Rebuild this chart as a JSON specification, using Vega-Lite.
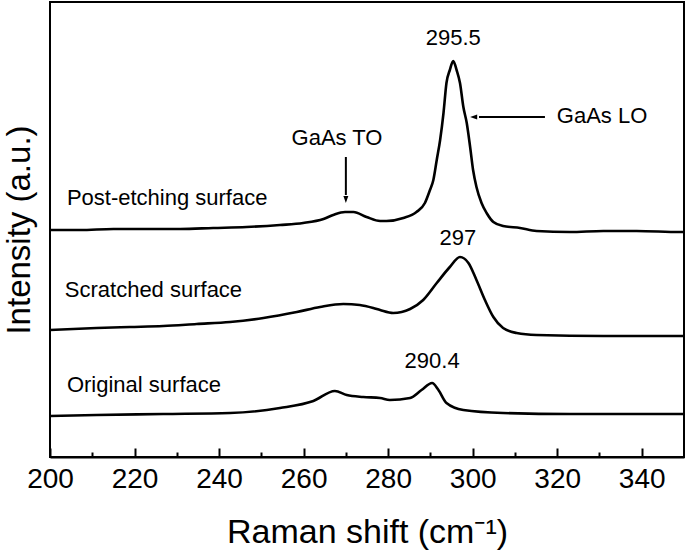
{
  "$schema": "https://vega.github.io/schema/vega-lite/v6.json",
  "autosize": {"type": "none"},
  "padding": {"left": 50, "top": 2, "right": 1, "bottom": 102},
  "width": 634,
  "height": 455,
  "config": {
    "view": {"stroke": "black", "strokeWidth": 2},
    "font": "Liberation Sans"
  },
  "datasets": {
    "spectra": [
      {"s": "Post-etching", "w": 200, "i": 227}, {"s": "Post-etching", "w": 207.1, "i": 227}, {"s": "Post-etching", "w": 215, "i": 228}, {"s": "Post-etching", "w": 222.9, "i": 228}, {"s": "Post-etching", "w": 230.8, "i": 228}, {"s": "Post-etching", "w": 238.6, "i": 229}, {"s": "Post-etching", "w": 246.5, "i": 230}, {"s": "Post-etching", "w": 254.4, "i": 232}, {"s": "Post-etching", "w": 259.9, "i": 234}, {"s": "Post-etching", "w": 264.7, "i": 238}, {"s": "Post-etching", "w": 267, "i": 242}, {"s": "Post-etching", "w": 269.8, "i": 245}, {"s": "Post-etching", "w": 271.8, "i": 245}, {"s": "Post-etching", "w": 274.9, "i": 240}, {"s": "Post-etching", "w": 278.1, "i": 236}, {"s": "Post-etching", "w": 279.6, "i": 236}, {"s": "Post-etching", "w": 283.6, "i": 239}, {"s": "Post-etching", "w": 286.7, "i": 245}, {"s": "Post-etching", "w": 288.7, "i": 254}, {"s": "Post-etching", "w": 289.9, "i": 267}, {"s": "Post-etching", "w": 290.7, "i": 277}, {"s": "Post-etching", "w": 291.5, "i": 297}, {"s": "Post-etching", "w": 292.3, "i": 317}, {"s": "Post-etching", "w": 293.1, "i": 344}, {"s": "Post-etching", "w": 293.8, "i": 374}, {"s": "Post-etching", "w": 294.6, "i": 387}, {"s": "Post-etching", "w": 295.4, "i": 396}, {"s": "Post-etching", "w": 296.2, "i": 387}, {"s": "Post-etching", "w": 297.0, "i": 374}, {"s": "Post-etching", "w": 297.8, "i": 350}, {"s": "Post-etching", "w": 298.6, "i": 334}, {"s": "Post-etching", "w": 299.4, "i": 310}, {"s": "Post-etching", "w": 300.1, "i": 287}, {"s": "Post-etching", "w": 300.9, "i": 270}, {"s": "Post-etching", "w": 302.1, "i": 254}, {"s": "Post-etching", "w": 303.3, "i": 244}, {"s": "Post-etching", "w": 304.9, "i": 235}, {"s": "Post-etching", "w": 307.2, "i": 231}, {"s": "Post-etching", "w": 311.2, "i": 229}, {"s": "Post-etching", "w": 315.1, "i": 226}, {"s": "Post-etching", "w": 323.0, "i": 225}, {"s": "Post-etching", "w": 330.9, "i": 226}, {"s": "Post-etching", "w": 338.8, "i": 226}, {"s": "Post-etching", "w": 349, "i": 225}, {"s": "Post-etching", "w": 350, "i": 225},
      {"s": "Scratched", "w": 200, "i": 127}, {"s": "Scratched", "w": 211, "i": 129}, {"s": "Scratched", "w": 218.9, "i": 130}, {"s": "Scratched", "w": 226.8, "i": 131}, {"s": "Scratched", "w": 234.7, "i": 133}, {"s": "Scratched", "w": 242.6, "i": 135}, {"s": "Scratched", "w": 250.5, "i": 139}, {"s": "Scratched", "w": 258.4, "i": 145}, {"s": "Scratched", "w": 263.9, "i": 150}, {"s": "Scratched", "w": 269.4, "i": 153}, {"s": "Scratched", "w": 273.3, "i": 152}, {"s": "Scratched", "w": 276.5, "i": 149}, {"s": "Scratched", "w": 278.1, "i": 147}, {"s": "Scratched", "w": 281.2, "i": 144}, {"s": "Scratched", "w": 285.2, "i": 148}, {"s": "Scratched", "w": 288.3, "i": 157}, {"s": "Scratched", "w": 291.5, "i": 174}, {"s": "Scratched", "w": 294.6, "i": 190}, {"s": "Scratched", "w": 297.0, "i": 200}, {"s": "Scratched", "w": 299.0, "i": 194}, {"s": "Scratched", "w": 300.9, "i": 177}, {"s": "Scratched", "w": 302.9, "i": 157}, {"s": "Scratched", "w": 304.9, "i": 140}, {"s": "Scratched", "w": 307.2, "i": 129}, {"s": "Scratched", "w": 310.4, "i": 124}, {"s": "Scratched", "w": 315.1, "i": 122}, {"s": "Scratched", "w": 330.9, "i": 121}, {"s": "Scratched", "w": 349, "i": 121}, {"s": "Scratched", "w": 350, "i": 121},
      {"s": "Original", "w": 200, "i": 41}, {"s": "Original", "w": 211, "i": 42}, {"s": "Original", "w": 226.8, "i": 43}, {"s": "Original", "w": 242.6, "i": 44}, {"s": "Original", "w": 254.4, "i": 49}, {"s": "Original", "w": 262.3, "i": 56}, {"s": "Original", "w": 267.4, "i": 66}, {"s": "Original", "w": 270.2, "i": 62}, {"s": "Original", "w": 274.1, "i": 60}, {"s": "Original", "w": 278.1, "i": 59}, {"s": "Original", "w": 280.4, "i": 57}, {"s": "Original", "w": 285.2, "i": 59}, {"s": "Original", "w": 287.9, "i": 67}, {"s": "Original", "w": 290.4, "i": 74}, {"s": "Original", "w": 291.9, "i": 67}, {"s": "Original", "w": 293.8, "i": 54}, {"s": "Original", "w": 297.8, "i": 47}, {"s": "Original", "w": 307.2, "i": 44}, {"s": "Original", "w": 323, "i": 43}, {"s": "Original", "w": 349, "i": 43}, {"s": "Original", "w": 350, "i": 43}
    ],
    "labels": [
      {"t": "295.5", "w": 295.4, "i": 412, "a": "center"},
      {"t": "297", "w": 296.5, "i": 212, "a": "center"},
      {"t": "290.4", "w": 290.4, "i": 89, "a": "center"},
      {"t": "GaAs LO", "w": 319.9, "i": 334, "a": "left"},
      {"t": "GaAs TO", "w": 267.9, "i": 312, "a": "center"},
      {"t": "Post-etching surface", "w": 204.0, "i": 252, "a": "left"},
      {"t": "Scratched surface", "w": 203.5, "i": 160, "a": "left"},
      {"t": "Original surface", "w": 204.0, "i": 65, "a": "left"}
    ],
    "arrows": [
      {"n": "LO", "w": 301.5, "w2": 317.1, "i": 340, "i2": 340},
      {"n": "TO", "w": 270.0, "w2": 270.0, "i": 300, "i2": 262}
    ],
    "heads": [
      {"n": "LO", "w": 299.4, "i": 340, "shape": "M0,0 L1,-0.35 L1,0.35 Z"},
      {"n": "TO", "w": 270.0, "i": 254, "shape": "M0,0 L-0.35,-1 L0.35,-1 Z"}
    ],
    "minor": [{"w": 210}, {"w": 230}, {"w": 250}, {"w": 270}, {"w": 290}, {"w": 310}, {"w": 330}]
  },
  "resolve": {"axis": {"x": "independent"}},
  "layer": [
    {
      "data": {"name": "spectra"},
      "mark": {"type": "line", "color": "black", "strokeWidth": 2.6, "interpolate": "monotone"},
      "encoding": {
        "x": {
          "field": "w", "type": "quantitative",
          "scale": {"domain": [200, 350], "nice": false, "zero": false},
          "axis": {
            "values": [200, 220, 240, 260, 280, 300, 320, 340],
            "tickSize": -9, "tickWidth": 2, "tickColor": "black",
            "domain": true, "domainColor": "black", "domainWidth": 2,
            "grid": false, "labelFlush": false, "labelOverlap": false,
            "labelFont": "Liberation Sans", "labelFontSize": 28, "labelColor": "black", "labelPadding": 17,
            "title": "Raman shift (cm⁻¹)", "titleFont": "Liberation Sans", "titleFontSize": 34,
            "titleFontWeight": "normal", "titleColor": "black", "titlePadding": 22
          }
        },
        "y": {
          "field": "i", "type": "quantitative",
          "scale": {"domain": [0, 455], "nice": false, "zero": false},
          "axis": {
            "ticks": false, "labels": false, "grid": false, "domain": false,
            "title": "Intensity (a.u.)", "titleFont": "Liberation Sans", "titleFontSize": 33,
            "titleFontWeight": "normal", "titleColor": "black", "titlePadding": 14
          }
        },
        "detail": {"field": "s"}
      }
    },
    {
      "data": {"name": "minor"},
      "mark": {"type": "point", "opacity": 0},
      "encoding": {
        "x": {
          "field": "w", "type": "quantitative",
          "axis": {
            "orient": "bottom", "values": [210, 230, 250, 270, 290, 310, 330],
            "tickSize": -5, "tickWidth": 2, "tickColor": "black",
            "labels": false, "domain": false, "grid": false, "title": null
          }
        },
        "y": {"datum": 0, "type": "quantitative"}
      }
    },
    {
      "data": {"name": "labels"},
      "transform": [{"filter": "datum.a === 'center'"}],
      "mark": {"type": "text", "font": "Liberation Sans", "fontSize": 22, "color": "black", "baseline": "alphabetic", "align": "center"},
      "encoding": {
        "x": {"field": "w", "type": "quantitative", "axis": null},
        "y": {"field": "i", "type": "quantitative"},
        "text": {"field": "t"}
      }
    },
    {
      "data": {"name": "labels"},
      "transform": [{"filter": "datum.a === 'left'"}],
      "mark": {"type": "text", "font": "Liberation Sans", "fontSize": 22, "color": "black", "baseline": "alphabetic", "align": "left"},
      "encoding": {
        "x": {"field": "w", "type": "quantitative", "axis": null},
        "y": {"field": "i", "type": "quantitative"},
        "text": {"field": "t"}
      }
    },
    {
      "data": {"name": "arrows"},
      "mark": {"type": "rule", "color": "black", "strokeWidth": 2},
      "encoding": {
        "x": {"field": "w", "type": "quantitative", "axis": null},
        "x2": {"field": "w2"},
        "y": {"field": "i", "type": "quantitative"},
        "y2": {"field": "i2"}
      }
    },
    {
      "data": {"name": "heads"},
      "mark": {"type": "point", "filled": true, "color": "black", "opacity": 1, "size": 200},
      "encoding": {
        "x": {"field": "w", "type": "quantitative", "axis": null},
        "y": {"field": "i", "type": "quantitative"},
        "shape": {"field": "shape", "type": "nominal", "scale": null}
      }
    }
  ]
}
